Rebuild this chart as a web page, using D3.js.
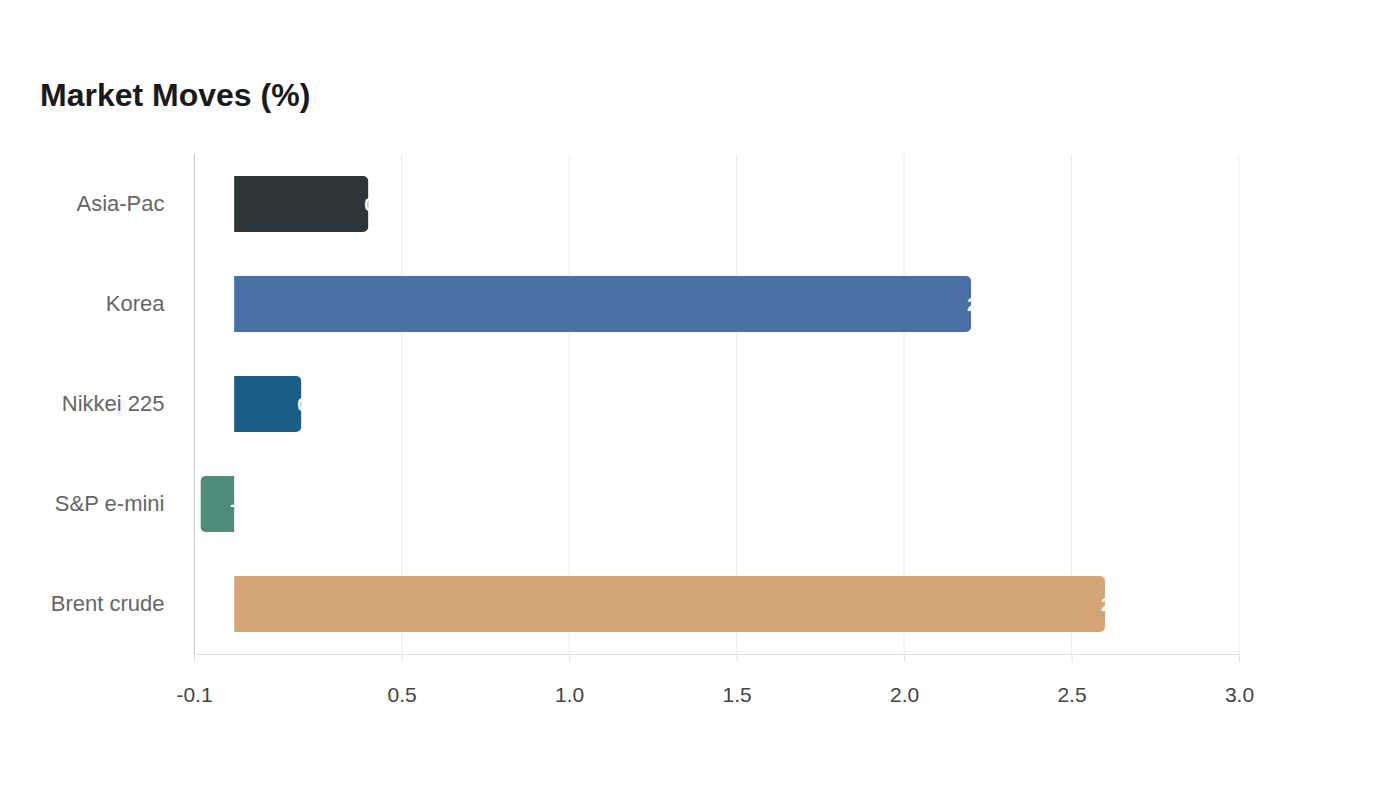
<!DOCTYPE html>
<html>
<head>
<meta charset="utf-8">
<script src="https://cdn.jsdelivr.net/npm/d3@7"></script>
<style>
  body { margin: 0; background: #fff; }
  svg { font-family: "Liberation Sans", Arial, sans-serif; }
</style>
</head>
<body>
<svg id="Target" width="1400" height="800"></svg>
<script>
// data
var categories = ["Asia-Pac", "Korea", "Nikkei 225", "S&P e-mini", "Brent crude"];
var values = [0.4, 2.2, 0.2, -0.1, 2.6];
var colors = ["#2e3538", "#4a6fa5", "#1a5e88", "#4e8c7c", "#d4a574"];
var tickValues = [-0.12, 0.5, 1.0, 1.5, 2.0, 2.5, 3.0];

var margin = { top: 154, right: 161, bottom: 146, left: 194 };
var width = 1400 - margin.left - margin.right;
var height = 800 - margin.top - margin.bottom;

// plain hyphen instead of the unicode minus
var fmt = function (v) { return d3.format(".1f")(v).replace("\u2212", "-"); };

var svg = d3.select("#Target");

svg.append("text")
    .attr("x", 40)
    .attr("y", 106)
    .attr("font-size", 32)
    .attr("font-weight", "bold")
    .attr("fill", "#1a1a1a")
    .text("Market Moves (%)");

var g = svg.append("g")
    .attr("transform", "translate(" + margin.left + "," + margin.top + ")");

var x = d3.scaleLinear()
    .domain([-0.12, 3.0])
    .range([0, width]);

var y = d3.scaleBand()
    .domain(categories)
    .range([0, height])
    .paddingInner(0.44)
    .paddingOuter(0.22);

// grid lines
g.selectAll("line.grid")
    .data(tickValues)
    .enter()
    .append("line")
    .attr("class", "grid")
    .attr("x1", function (d) { return x(d); })
    .attr("x2", function (d) { return x(d); })
    .attr("y1", 0)
    .attr("y2", height)
    .attr("stroke", "#ebebeb")
    .attr("stroke-width", 1);

// x axis
var xAxis = g.append("g")
    .attr("transform", "translate(0," + height + ")")
    .call(d3.axisBottom(x)
        .tickValues(tickValues)
        .tickFormat(fmt)
        .tickSize(8)
        .tickPadding(25));
xAxis.select(".domain").attr("stroke", "#e0e0e0");
xAxis.selectAll(".tick line").attr("stroke", "#e0e0e0");
xAxis.selectAll(".tick text")
    .attr("font-size", 21)
    .attr("fill", "#444")
    .attr("font-family", "Liberation Sans, Arial, sans-serif");

// left axis line
g.append("line")
    .attr("x1", 0.5)
    .attr("x2", 0.5)
    .attr("y1", 0)
    .attr("y2", height)
    .attr("stroke", "#d0d0d0");

// category labels
g.selectAll("text.cat")
    .data(categories)
    .enter()
    .append("text")
    .attr("class", "cat")
    .attr("x", -29.5)
    .attr("y", function (d) { return y(d) + y.bandwidth() / 2; })
    .attr("dy", "0.33em")
    .attr("text-anchor", "end")
    .attr("font-size", 22)
    .attr("fill", "#666")
    .text(function (d) { return d; });

// bars with rounded outer end
var r = 5;
var barPath = function (d, i) {
    var x0 = x(0);
    var x1 = x(values[i]);
    var top = y(d);
    var h = y.bandwidth();
    var p = d3.path();
    if (x1 >= x0) {
        p.moveTo(x0, top);
        p.lineTo(x1 - r, top);
        p.arcTo(x1, top, x1, top + r, r);
        p.lineTo(x1, top + h - r);
        p.arcTo(x1, top + h, x1 - r, top + h, r);
        p.lineTo(x0, top + h);
    } else {
        p.moveTo(x0, top);
        p.lineTo(x1 + r, top);
        p.arcTo(x1, top, x1, top + r, r);
        p.lineTo(x1, top + h - r);
        p.arcTo(x1, top + h, x1 + r, top + h, r);
        p.lineTo(x0, top + h);
    }
    p.closePath();
    return p.toString();
};

g.selectAll("path.bar")
    .data(categories)
    .enter()
    .append("path")
    .attr("class", "bar")
    .attr("d", barPath)
    .attr("fill", function (d, i) { return colors[i]; });

// value labels (white, start at the bar end)
g.selectAll("text.val")
    .data(categories)
    .enter()
    .append("text")
    .attr("class", "val")
    .attr("x", function (d, i) { return x(Math.max(values[i], 0)) - 4; })
    .attr("y", function (d) { return y(d) + y.bandwidth() / 2; })
    .attr("dy", "0.35em")
    .attr("font-size", 19)
    .attr("font-weight", "bold")
    .attr("fill", "#fff")
    .text(function (d, i) { return fmt(values[i]); });
</script>
</body>
</html>
